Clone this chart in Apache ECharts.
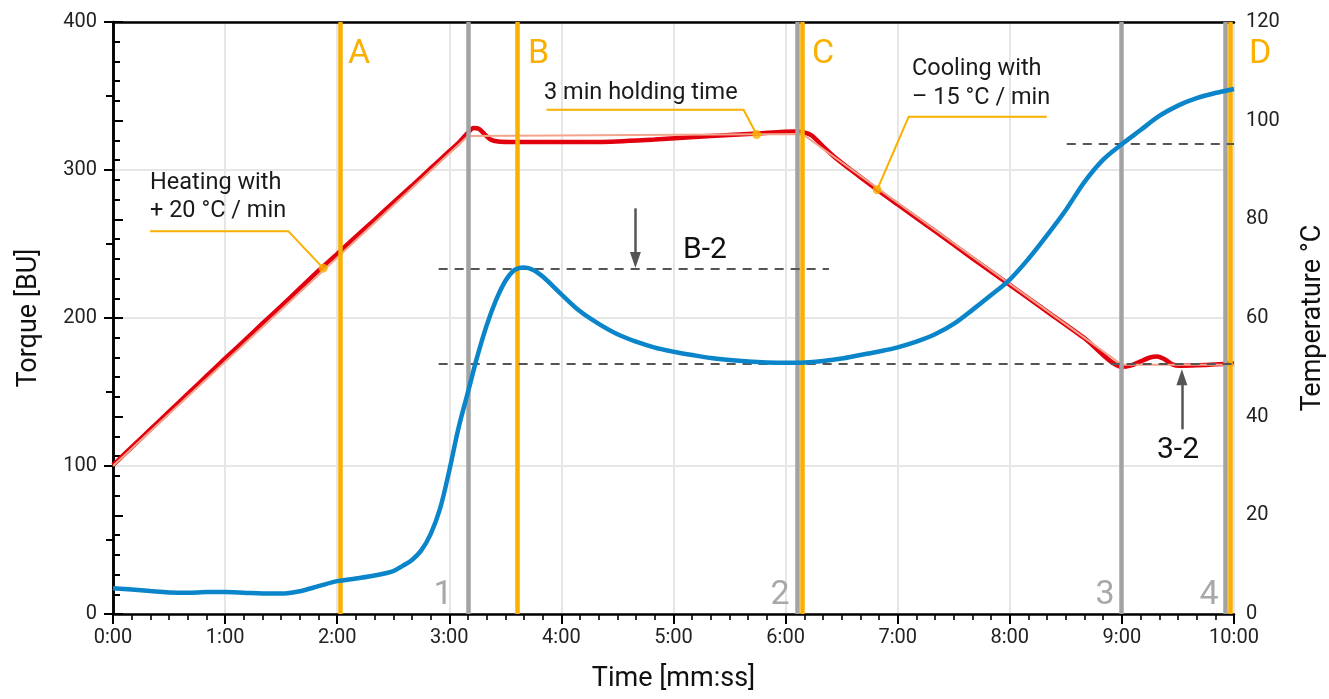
<!DOCTYPE html>
<html>
<head>
<meta charset="utf-8">
<script src="https://cdn.jsdelivr.net/npm/echarts@6/dist/echarts.min.js"></script>
<style>
  html, body { margin: 0; padding: 0; background: #fff; }
  #chart { width: 1329px; height: 699px; }
</style>
</head>
<body>
<div id="chart"></div>
<script>
// ---------- DATA ----------
// time in seconds

// Torque [BU] (left axis) - blue
const torqueTime = [0, 10, 20, 30, 40, 50, 60, 70, 80, 90, 100, 110, 120, 130, 140, 150, 155, 160, 165, 170, 175, 180, 185, 190, 195, 200, 205, 210, 215, 220, 225, 230, 240, 250, 260, 270, 280, 290, 300, 310, 320, 330, 340, 350, 360, 370, 380, 390, 400, 410, 420, 430, 440, 450, 460, 470, 480, 490, 500, 510, 520, 530, 540, 550, 560, 570, 580, 590, 600];
const torqueValue = [17.4, 16.5, 15.5, 14.6, 14.3, 14.9, 14.8, 14.4, 13.8, 13.8, 15.4, 18.8, 22.2, 24.0, 26.0, 29.0, 32.5, 36.5, 43.0, 54.0, 71.0, 97.0, 126.0, 150.0, 174.0, 195.0, 212.0, 225.0, 232.5, 234.2, 232.5, 228.0, 216.0, 204.5, 196.0, 189.0, 184.0, 180.0, 177.2, 175.0, 173.0, 171.6, 170.6, 170.0, 169.8, 170.0, 171.0, 172.6, 175.0, 177.4, 180.2, 184.0, 189.0, 196.0, 205.5, 215.5, 226.0, 240.0, 256.0, 273.0, 292.0, 307.0, 317.5, 327.0, 336.5, 343.5, 348.5, 352.0, 354.7];

// Measured temperature [°C] (right axis) - red
const tempTime = [0, 10, 20, 30, 40, 50, 60, 70, 80, 90, 100, 110, 120, 130, 140, 150, 160, 170, 180, 185, 190, 193, 196, 199, 202, 206, 215, 230, 260, 290, 320, 345, 365, 370, 374, 380, 386, 395, 409, 420, 440, 460, 480, 500, 520, 540, 545, 550, 555, 559, 563, 567, 571, 580, 590, 600];
const tempValue = [30.2, 33.8, 37.4, 41.0, 44.6, 48.2, 51.8, 55.3, 58.9, 62.4, 66.0, 69.6, 73.0, 76.5, 79.9, 83.4, 86.8, 90.3, 93.8, 95.5, 97.6, 98.5, 98.3, 97.2, 96.2, 95.8, 95.7, 95.7, 95.7, 96.2, 96.9, 97.4, 97.8, 97.6, 97.0, 94.8, 92.7, 90.0, 86.0, 83.0, 77.6, 72.1, 66.7, 61.3, 55.9, 50.1, 50.4, 51.2, 52.0, 52.2, 51.6, 50.6, 50.3, 50.4, 50.6, 50.8];

// Set-point temperature profile [°C] - pale
const setTime = [0, 190, 369, 540, 600];
const setValue = [30, 96.9, 97.3, 50.5, 50.5];

// Phase markers (time in s)
const phaseLabels = ['A', 'B', 'C', 'D'];
const phaseTimes = [121.8, 216.4, 369.0, 597.9];
const pointLabels = ['1', '2', '3', '4'];
const pointTimes = [190.0, 366.4, 539.9, 595.2];

// Reference dashed levels [BU]
const dashStart = [174.3, 174.3, 510.5];
const dashEnd = [383.2, 600, 600];
const dashLevel = [233.1, 169.4, 317.6];

// Arrows [BU]: time, from, to
const arrowTime = [279.6, 572.1];
const arrowFrom = [274.1, 124.8];
const arrowTo = [239.2, 159.9];
const arrowLabels = ['B-2', '3-2'];

// Callouts (temperature coords): line start, knee, dot
const calloutHeat = [[19.8, 77.6], [93.8, 77.6], [112.5, 70.1]];
const calloutHold = [[232, 102.2], [337.5, 102.2], [344.5, 97.2]];
const calloutCool = [[499.8, 100.8], [425.9, 100.8], [409, 86.0]];

// ---------- CHART ----------
const ORANGE = '#F9B000';
const GRAY = '#A3A3A3';
const RED = '#E2000F';
const PALE = '#F4A48C';
const BLUE = '#0A85C9';
const FONT = 'Roboto';

const zip = (a, b) => a.map((v, i) => [v, b[i]]);
const fmt = v => Math.floor(v / 60) + ':' + String(v % 60).padStart(2, '0');

const chart = echarts.init(document.getElementById('chart'));

const vLines = [];
pointTimes.forEach(t => vLines.push({ xAxis: t, lineStyle: { color: GRAY, width: 4.5, type: 'solid' } }));
phaseTimes.forEach(t => vLines.push({ xAxis: t, lineStyle: { color: ORANGE, width: 4.5, type: 'solid' } }));

const dashLines = dashLevel.map((lv, i) => [
  { coord: [dashStart[i], lv] }, { coord: [dashEnd[i], lv] }
]);
const arrowLines = arrowTime.map((t, i) => [
  { coord: [t, arrowFrom[i]] }, { coord: [t, arrowTo[i]] }
]);

function calloutSeries(pts) {
  return [{
    type: 'line', yAxisIndex: 1, data: pts, symbol: 'none', silent: true,
    lineStyle: { color: ORANGE, width: 2 }, z: 6, animation: false
  }, {
    type: 'scatter', yAxisIndex: 1, data: [pts[pts.length - 1]], symbol: 'circle', symbolSize: 9,
    itemStyle: { color: ORANGE }, z: 7, silent: true, animation: false
  }];
}

const textEl = (text, x, y, size, fill, align) => ({
  type: 'text', x: x, y: y, silent: true, z: 100,
  style: { text: text, fontSize: size, fontFamily: FONT, fill: fill, align: align || 'left', verticalAlign: 'middle' }
});

const letterX = [348, 528, 812, 1249];
const numberX = [443, 780, 1105, 1209];

const graphics = [
  textEl('Heating with', 150, 183, 23.5, '#1a1a1a'),
  textEl('+ 20 °C / min', 150, 211, 23.5, '#1a1a1a'),
  textEl('3 min holding time', 544, 93, 23.5, '#1a1a1a'),
  textEl('Cooling with', 912, 69, 23.5, '#1a1a1a'),
  textEl('– 15 °C / min', 912, 98, 23.5, '#1a1a1a'),
  textEl(arrowLabels[0], 683, 250, 30, '#111'),
  textEl(arrowLabels[1], 1157, 450, 30, '#111')
];
phaseLabels.forEach((l, i) => graphics.push(textEl(l, letterX[i], 54, 34, ORANGE)));
pointLabels.forEach((l, i) => graphics.push(textEl(l, numberX[i], 595, 34, '#A8A8A8', 'center')));

const option = {
  animation: false,
  backgroundColor: '#fff',
  grid: { left: 113, right: 95, top: 22, bottom: 85, outerBoundsMode: 'none', containLabel: false },
  xAxis: [{
    type: 'value', min: 0, max: 600, interval: 60, position: 'bottom',
    name: 'Time [mm:ss]', nameLocation: 'middle', nameGap: 52,
    nameTextStyle: { fontSize: 27, fontFamily: FONT, color: '#111' },
    axisLine: { show: true, lineStyle: { color: '#000', width: 2.5 } },
    axisTick: { show: true, length: 10, lineStyle: { color: '#000', width: 2 } },
    minorTick: { show: true, splitNumber: 6, length: 6, lineStyle: { color: '#000', width: 1.6 } },
    splitLine: { show: true, lineStyle: { color: '#E6E6E6', width: 2 } },
    axisLabel: { formatter: fmt, fontSize: 20, fontFamily: FONT, color: '#222', margin: 14 }
  }, {
    type: 'value', min: 0, max: 600, interval: 60, position: 'top',
    axisLine: { show: true, onZero: false, lineStyle: { color: '#000', width: 2.5 } },
    axisTick: { show: false }, axisLabel: { show: false }, splitLine: { show: false }
  }],
  yAxis: [{
    type: 'value', min: 0, max: 400, interval: 100, position: 'left',
    name: 'Torque [BU]', nameLocation: 'middle', nameGap: 70, nameRotate: 90,
    nameTextStyle: { fontSize: 27, fontFamily: FONT, color: '#111' },
    axisLine: { show: true, lineStyle: { color: '#000', width: 2.5 } },
    axisTick: { show: true, length: 9, lineStyle: { color: '#000', width: 2 } },
    minorTick: { show: true, splitNumber: 2, length: 7, lineStyle: { color: '#000', width: 2 } },
    splitLine: { show: true, lineStyle: { color: '#E6E6E6', width: 2 } },
    axisLabel: { fontSize: 20, fontFamily: FONT, color: '#222', margin: 16 }
  }, {
    type: 'value', min: 0, max: 120, interval: 20, position: 'right',
    name: 'Temperature °C', nameLocation: 'middle', nameGap: 66, nameRotate: 90,
    nameTextStyle: { fontSize: 27, fontFamily: FONT, color: '#111' },
    axisLine: { show: true, lineStyle: { color: '#000', width: 2.5 } },
    axisTick: { show: true, length: 10, lineStyle: { color: '#000', width: 2 } },
    minorTick: { show: true, splitNumber: 5, length: 7, lineStyle: { color: '#000', width: 2 } },
    splitLine: { show: false },
    axisLabel: { fontSize: 20, fontFamily: FONT, color: '#222', margin: 12 }
  }],
  series: [
    {
      name: 'markers', type: 'line', data: [], z: 1, silent: true,
      markLine: { silent: true, symbol: ['none', 'none'], label: { show: false }, data: vLines, animation: false }
    },
    {
      name: 'refs', type: 'line', data: [], z: 2, silent: true,
      markLine: {
        silent: true, symbol: ['none', 'none'], label: { show: false },
        lineStyle: { color: '#555', width: 2, type: [9, 7] }, data: dashLines, animation: false
      }
    },
    {
      name: 'arrows', type: 'line', data: [], z: 2, silent: true,
      markLine: {
        silent: true, symbol: ['none', 'triangle'], symbolSize: [11, 16], label: { show: false },
        lineStyle: { color: '#555', width: 2.5, type: 'solid' }, data: arrowLines, animation: false
      }
    },
    {
      name: 'Temperature', type: 'line', yAxisIndex: 1, data: zip(tempTime, tempValue),
      smooth: 0.25, symbol: 'none', lineStyle: { color: RED, width: 4.5 }, z: 3
    },
    {
      name: 'Set temperature', type: 'line', yAxisIndex: 1, data: zip(setTime, setValue),
      symbol: 'none', lineStyle: { color: PALE, width: 2 }, z: 4
    },
    {
      name: 'Torque', type: 'line', yAxisIndex: 0, data: zip(torqueTime, torqueValue),
      smooth: 0.35, symbol: 'none', lineStyle: { color: BLUE, width: 4.5 }, z: 5
    },
    ...calloutSeries(calloutHeat),
    ...calloutSeries(calloutHold),
    ...calloutSeries(calloutCool)
  ],
  graphic: graphics
};
chart.setOption(option);
</script>
</body>
</html>
